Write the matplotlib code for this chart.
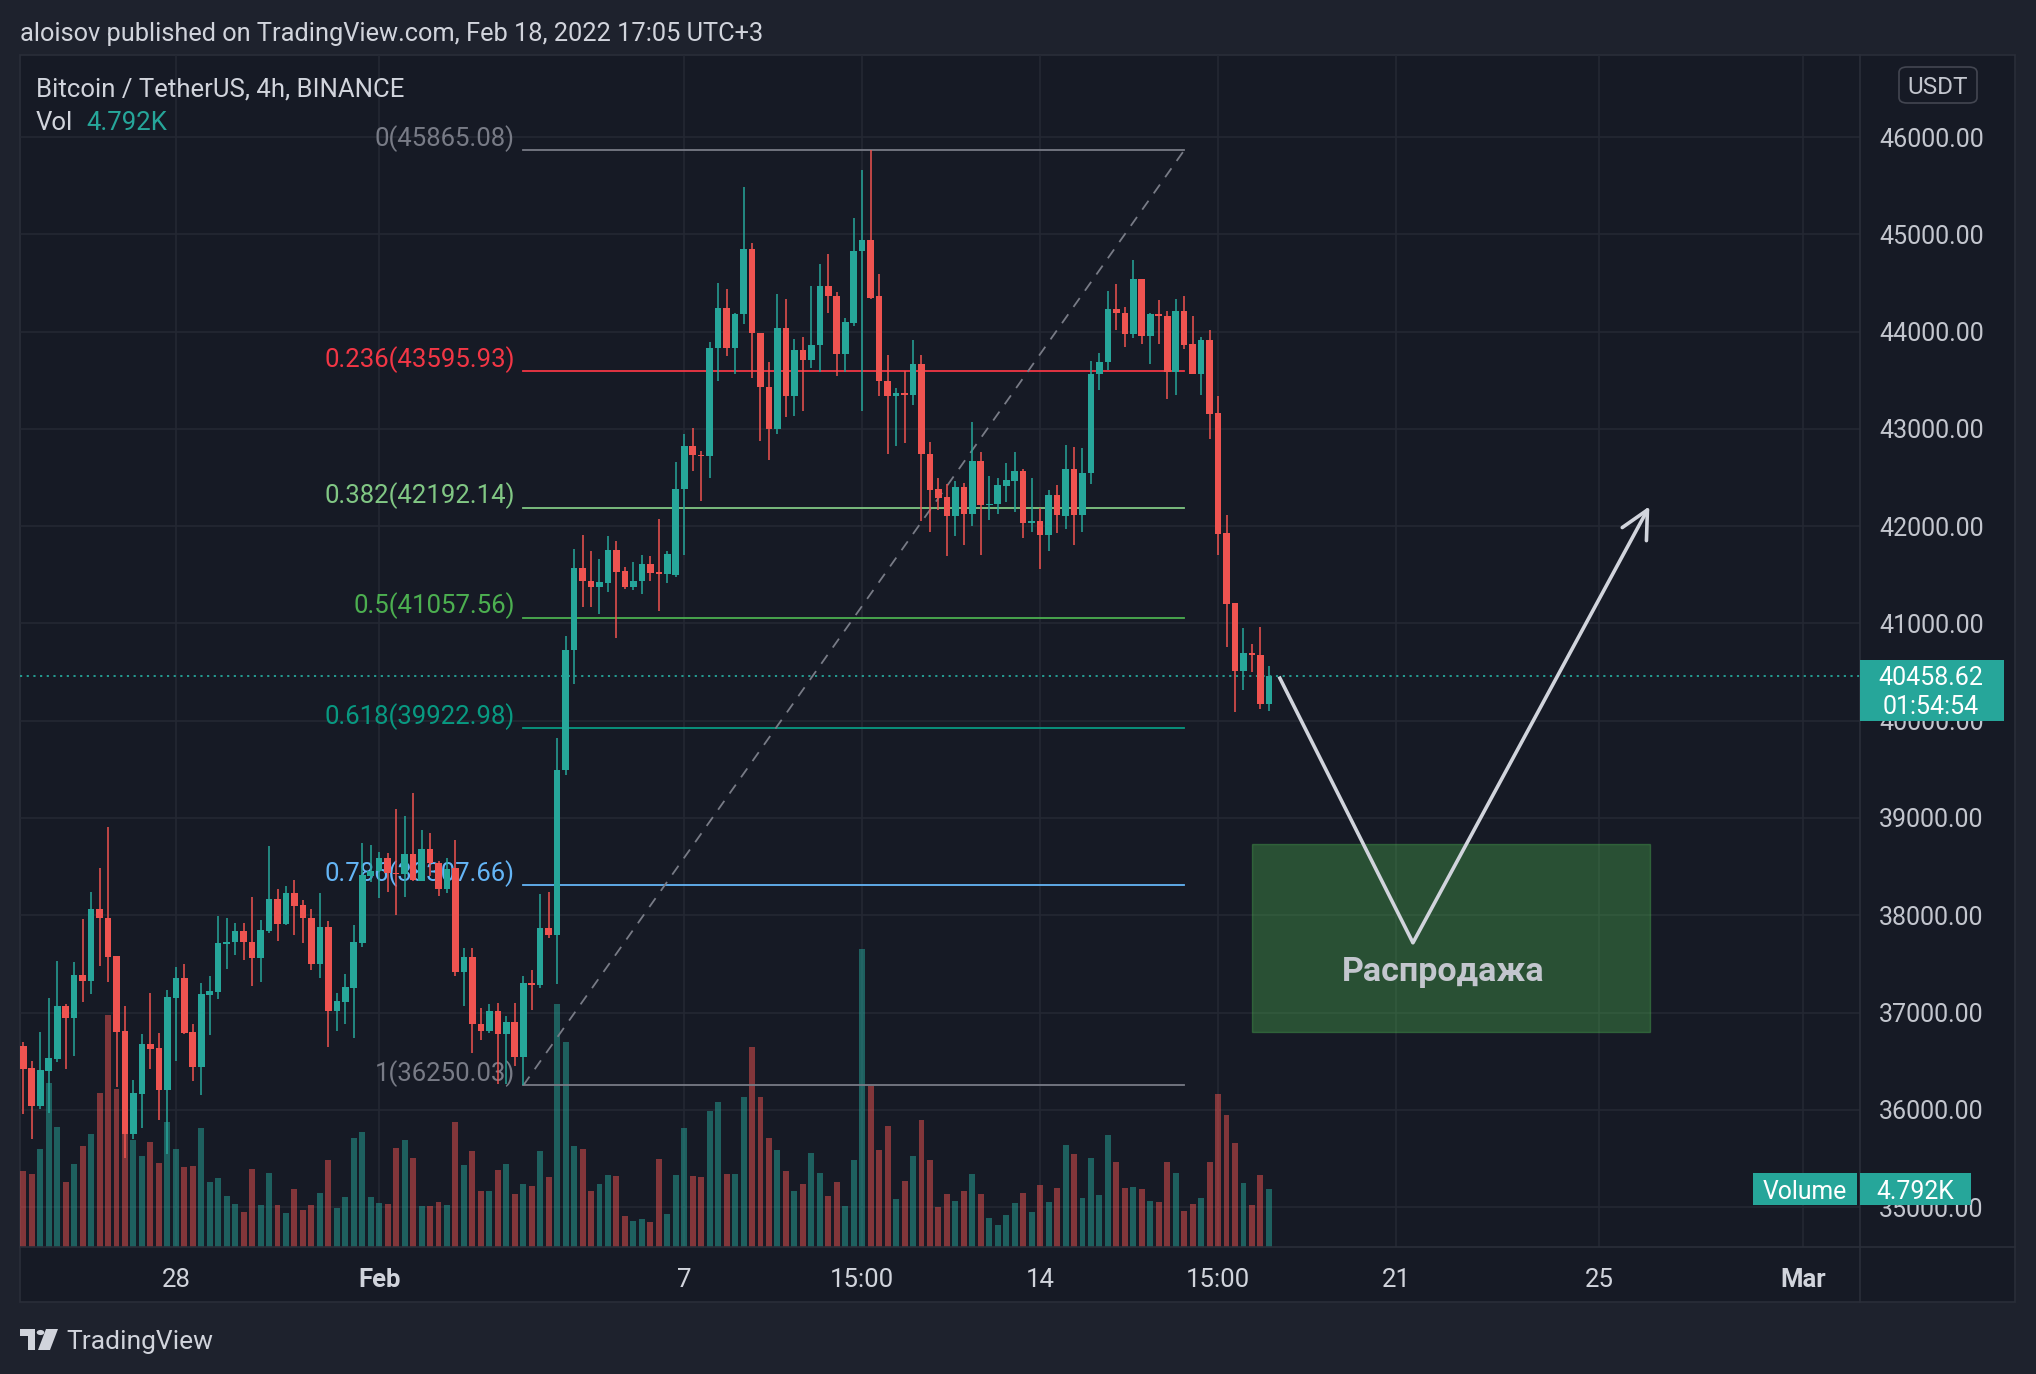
import matplotlib
matplotlib.use("Agg")
import matplotlib.pyplot as plt
import matplotlib.transforms as mtransforms
from matplotlib.patches import Rectangle, FancyBboxPatch, Circle, Polygon
from matplotlib.lines import Line2D
import numpy as np

plt.rcParams["font.family"] = ["Roboto", "DejaVu Sans"]

# ------------------------------------------------------------------
# data: BTC/USDT 4h candles, Jan 25 -> Feb 18 2022
# ------------------------------------------------------------------
opens = [36651, 36429, 36043, 36402, 36525, 37064, 36941, 37382, 37320, 38068,
         37976, 37577, 36808, 35746, 36163, 36675, 36634, 36207, 37146, 37351,
         36798, 36443, 37184, 37211, 37703, 37727, 37839, 37730, 37559, 37836,
         38164, 37908, 38232, 38102, 37973, 37498, 37877, 37020, 37112, 37256,
         37717, 38403, 38454, 38591, 38437, 38420, 38625, 38352, 38683, 38540,
         38273, 38490, 37415, 37566, 36886, 36811, 37018, 36781, 36905, 36543,
         37305, 37283, 37868, 37800, 39494, 40728, 41566, 41441, 41370, 41415,
         41755, 41536, 41370, 41434, 41611, 41525, 41509, 41500, 42386, 42822,
         42737, 42717, 43836, 44246, 43836, 44177, 44853, 43990, 43427, 43003,
         44041, 43341, 43809, 43710, 43867, 44468, 44372, 43768, 44089, 44826,
         44945, 44372, 43495, 43341, 43365, 43345, 43666, 42747, 42379, 42297,
         42106, 42406, 42123, 42666, 42215, 42225, 42413, 42464, 42563, 42038,
         42055, 41911, 42317, 42106, 42584, 42116, 42543, 43567, 43689, 44232,
         44188, 43976, 44539, 43956, 44181, 44164, 43590, 44212, 43874, 43567,
         43915, 43167, 41928, 41211, 40515, 40696, 40679, 40177]
highs = [36695, 36501, 36798, 37146, 37532, 37092, 37515, 37966, 38242, 38488,
         38908, 37577, 37071, 36306, 36777, 37197, 36788, 37228, 37464, 37495,
         36880, 37300, 37372, 37997, 37976, 37918, 37918, 38191, 37949, 38717,
         38273, 38297, 38359, 38157, 38068, 38225, 37945, 37201, 37396, 37901,
         38738, 38727, 38649, 38635, 39093, 39025, 39257, 38881, 38847, 38557,
         38591, 38773, 37667, 37660, 37045, 37083, 37100, 36962, 37100, 37377,
         37441, 38215, 38234, 39819, 40868, 41766, 41906, 41743, 41660, 41898,
         41849, 41585, 41630, 41709, 41698, 42075, 41747, 42662, 42949, 43010,
         42771, 43898, 44505, 44444, 44188, 45491, 44911, 43990, 43686, 44392,
         44341, 43921, 43942, 44474, 44700, 44802, 44403, 44137, 45171, 45662,
         45865, 44597, 43758, 43420, 43597, 43915, 43761, 42867, 42491, 42437,
         42461, 42447, 43075, 42758, 42512, 42491, 42655, 42758, 42584, 42498,
         42188, 42369, 42420, 42840, 42819, 42799, 43700, 43782, 44416, 44488,
         44253, 44734, 44539, 44195, 44324, 44212, 44334, 44365, 44160, 43945,
         44017, 43341, 42113, 41211, 40956, 40792, 40966, 40567]
lows = [35958, 35702, 36012, 35968, 36494, 36422, 36555, 37109, 37191, 37477,
        37310, 36238, 35507, 35695, 35814, 36422, 35890, 35541, 36504, 36777,
        36293, 36156, 36771, 37139, 37447, 37590, 37539, 37276, 37317, 37816,
        37737, 37898, 37799, 37713, 37440, 37355, 36641, 36812, 36883, 36733,
        37676, 38342, 38181, 38239, 38007, 38188, 38352, 38352, 38403, 38198,
        38232, 37377, 37064, 36584, 36716, 36792, 36264, 36264, 36452, 36250,
        37026, 37252, 37766, 37290, 39445, 40377, 41170, 41170, 41102, 41328,
        40849, 41351, 41340, 41302, 41441, 41124, 41415, 41480, 41700, 42566,
        42259, 42498, 43495, 43751, 43563, 44075, 43522, 42874, 42676, 42949,
        43126, 43137, 43188, 43625, 43584, 44191, 43546, 43584, 44058, 43188,
        44341, 43341, 42747, 42829, 42856, 43249, 42055, 41942, 42167, 41696,
        41901, 41809, 42003, 41706, 42065, 42123, 42249, 42147, 41880, 41942,
        41560, 41747, 41928, 41976, 41809, 41942, 42430, 43396, 43608, 44017,
        43846, 43939, 43874, 43669, 43874, 43311, 43352, 43823, 43567, 43352,
        42901, 41703, 40761, 40085, 40311, 40505, 40116, 40096]
closes = [36422, 36043, 36409, 36532, 37064, 36941, 37382, 37320, 38068, 37969,
          37566, 36801, 35746, 36173, 36675, 36627, 36207, 37156, 37351, 36788,
          36443, 37187, 37218, 37710, 37730, 37839, 37727, 37559, 37846, 38164,
          37908, 38232, 38096, 37973, 37498, 37877, 37020, 37119, 37259, 37723,
          38410, 38458, 38591, 38437, 38420, 38625, 38362, 38683, 38540, 38273,
          38478, 37415, 37566, 36879, 36811, 37018, 36781, 36905, 36543, 37305,
          37283, 37868, 37800, 39494, 40728, 41566, 41441, 41370, 41426, 41755,
          41528, 41370, 41434, 41611, 41517, 41509, 41717, 42386, 42822, 42730,
          42717, 43836, 44246, 43836, 44177, 44853, 43990, 43427, 43003, 44041,
          43341, 43809, 43710, 43867, 44468, 44365, 43768, 44096, 44833, 44945,
          44348, 43495, 43341, 43365, 43351, 43666, 42741, 42372, 42290, 42106,
          42406, 42123, 42666, 42215, 42232, 42420, 42471, 42563, 42038, 42055,
          41911, 42317, 42116, 42584, 42116, 42543, 43567, 43689, 44232, 44188,
          43976, 44539, 43956, 44181, 44164, 43590, 44212, 43863, 43567, 43915,
          43157, 41918, 41201, 40515, 40700, 40672, 40177, 40458.62]
# volume in thousands of BTC
volumes = [6.26, 6.01, 8.08, 13.57, 9.91, 5.34, 6.84, 8.33, 9.33, 12.74,
           19.22, 13.07, 10.80, 8.83, 7.50, 8.67, 6.92, 10.33, 8.08, 6.59,
           6.67, 9.83, 5.34, 5.68, 4.18, 3.51, 2.85, 6.42, 3.43, 6.09,
           3.43, 2.77, 4.76, 3.02, 3.43, 4.43, 7.17, 3.18, 4.10, 9.00,
           9.50, 4.10, 3.60, 3.51, 8.17, 8.83, 7.34, 3.35, 3.35, 3.71,
           3.46, 10.36, 6.79, 7.95, 4.63, 4.63, 6.37, 6.87, 4.38, 5.21,
           5.04, 7.95, 5.79, 20.08, 16.92, 8.37, 8.12, 4.63, 5.21, 5.96,
           5.87, 2.55, 2.14, 2.30, 2.05, 7.29, 2.72, 5.96, 9.86, 5.87,
           5.79, 11.27, 11.94, 6.04, 6.04, 12.36, 16.51, 12.36, 9.03, 8.04,
           6.29, 4.63, 5.21, 7.79, 6.12, 4.21, 5.38, 3.38, 7.20, 24.65,
           13.27, 8.04, 10.03, 3.96, 5.46, 7.54, 10.53, 7.20, 3.30, 4.38,
           3.80, 4.63, 6.04, 4.38, 2.39, 1.80, 2.63, 3.63, 4.46, 2.88,
           5.13, 3.71, 4.88, 8.45, 7.70, 4.05, 7.37, 4.30, 9.28, 7.04,
           4.88, 4.96, 4.79, 3.80, 3.71, 7.04, 6.12, 2.97, 3.55, 4.05,
           7.04, 12.68, 10.94, 8.61, 5.29, 3.46, 5.96, 4.792]

time_tick_pos = [18, 42, 78, 99, 120, 141, 162, 186, 210]
time_tick_labels = ["28", "Feb", "7", "15:00", "14", "15:00", "21", "25", "Mar"]
price_ticks = list(range(35000, 47000, 1000))

fib_ratios = ["0", "0.236", "0.382", "0.5", "0.618", "0.786", "1"]
fib_prices = [45865.08, 43595.93, 42192.14, 41057.56, 39922.98, 38307.66, 36250.03]
fib_colors = ["#787B86", "#F23645", "#81C784", "#4CAF50", "#089981", "#64B5F6", "#787B86"]
fib_x = [59, 137]

zone_x = [145, 192]
zone_prices = [36799, 38732]
zone_label = "Распродажа"
path_x = [148.2, 164.0, 191.9]
path_prices = [40454, 37717, 42204]

last_price = 40458.62
countdown = "01:54:54"
last_volume_label = "4.792K"

# ------------------------------------------------------------------
W, H = 2036, 1374
OUTER = "#1E222D"
CHART = "#161A25"
GRID = "#242833"
BORDER = "#2A2E39"
UP = "#26A69A"
DOWN = "#EF5350"
TEXT = "#D1D4DC"
AXIS_TEXT = "#C3C6CE"


def fx(px):
    return px / W


def fy(py):
    return 1 - py / H


fig = plt.figure(figsize=(W / 100, H / 100), dpi=100, facecolor=OUTER)

# chart frame
fig.add_artist(Rectangle((fx(19.5), fy(1302)), fx(2015) - fx(19.5), fy(54.5) - fy(1302),
                         transform=fig.transFigure, facecolor=CHART, edgecolor=BORDER,
                         linewidth=1.2, zorder=-1))

left, right, top, bottom = 20, 1859.5, 54.5, 1246.7
rect = [fx(left), fy(bottom), fx(right) - fx(left), fy(top) - fy(bottom)]
ax_vol = fig.add_axes(rect)
ax_vol.set_facecolor("none")
ax = ax_vol.twinx()
ax.set_facecolor("none")

n = len(closes)
x = np.arange(n)
o = np.array(opens, dtype=float)
c = np.array(closes, dtype=float)
up = c >= o
cols = np.where(up, UP, DOWN)

ax_vol.set_xlim(-0.39, 216.7)
ax.set_ylim(34592, 46850)
ax_vol.set_ylim(0, 98.7)

# grid
grid_tr = mtransforms.blended_transform_factory(ax_vol.transAxes, ax.transData)
for p in price_ticks:
    ax_vol.plot([0, 1], [p, p], transform=grid_tr, color=GRID, lw=1.2, zorder=0)
for t in time_tick_pos:
    ax_vol.axvline(t, color=GRID, lw=1.2, zorder=0)

# volume
ax_vol.bar(x, volumes, width=0.7, color=cols, alpha=0.5, linewidth=0, zorder=1)

# fib retracement
for ratio, price, col in zip(fib_ratios, fib_prices, fib_colors):
    ax.plot(fib_x, [price, price], color=col, lw=1.3, zorder=1)
    ax.annotate(f"{ratio}({price:.2f})", xy=(fib_x[0], price), xytext=(-6, 8.5),
                textcoords="offset points", ha="right", va="center",
                fontsize=18.5, color=col, zorder=1)
ax.plot(fib_x, [fib_prices[-1], fib_prices[0]], color="#787B86", lw=1.3,
        ls=(0, (6, 5)), zorder=1)

# candles
ax.vlines(x, lows, highs, colors=cols, lw=1.1, zorder=3)
body = np.maximum(np.abs(c - o), 12)
ax.bar(x, body, bottom=np.minimum(o, c), width=0.78, color=cols, linewidth=0, zorder=4)

# current price line
ax.axhline(last_price, color=UP, lw=1.3, ls=(0, (1.2, 2.5)), zorder=2)

# sell-off zone and projected path
ax.add_patch(Rectangle((zone_x[0], zone_prices[0]), zone_x[1] - zone_x[0],
                       zone_prices[1] - zone_prices[0], facecolor="#4CAF50", alpha=0.37,
                       edgecolor="#4CAF50", linewidth=1.0, zorder=2))
ax.text(167.6, 37420, zone_label, ha="center", va="center", fontsize=24.5,
        fontweight="bold", color=AXIS_TEXT, zorder=5)
ax.plot(path_x[:2], path_prices[:2], color=TEXT, lw=2.6, solid_capstyle="butt", zorder=6)
ax.annotate("", xy=(path_x[2], path_prices[2]), xytext=(path_x[1], path_prices[1]),
            arrowprops=dict(arrowstyle="->,head_length=0.9,head_width=0.45",
                            color=TEXT, lw=2.6, mutation_scale=22,
                            shrinkA=0, shrinkB=0), zorder=6)

# axes cosmetics
for a in (ax, ax_vol):
    for s in a.spines.values():
        s.set_visible(False)
ax_vol.set_yticks([])
ax_vol.set_xticks([])
ax.set_yticks(price_ticks)
ax.set_yticklabels([f"{p:.2f}" for p in price_ticks])
ax.tick_params(axis="y", right=True, labelright=True, left=False, labelleft=False,
               length=0, pad=14, labelsize=18, labelcolor=AXIS_TEXT)

for t, lab in zip(time_tick_pos, time_tick_labels):
    bold = lab in ("Feb", "Mar")
    ax_vol.text(t, -0.0282, lab, transform=ax_vol.get_xaxis_transform(), ha="center",
                va="center", fontsize=18.5, color=TEXT,
                fontweight="bold" if bold else "normal")

# separators
fig.add_artist(Line2D([fx(right), fx(right)], [fy(1302), fy(54.5)], color=BORDER, lw=1.2))
fig.add_artist(Line2D([fx(19.5), fx(2015)], [fy(bottom), fy(bottom)], color=BORDER, lw=1.2))

# header and legend
fig.text(fx(20), fy(34), "aloisov published on TradingView.com, Feb 18, 2022 17:05 UTC+3",
         fontsize=18.3, color=TEXT, va="center", ha="left")
fig.text(fx(36), fy(89), "Bitcoin / TetherUS, 4h, BINANCE", fontsize=18.5, color=TEXT,
         va="center", ha="left")
fig.text(fx(36), fy(123), "Vol", fontsize=18.5, color=TEXT, va="center", ha="left")
fig.text(fx(86), fy(123), last_volume_label, fontsize=18.5, color=UP, va="center",
         ha="left")

# right scale badges
fig.add_artist(FancyBboxPatch((fx(1899), fy(103)), fx(78), 36 / H,
                              boxstyle="round,pad=0,rounding_size=0.004",
                              transform=fig.transFigure, facecolor=CHART,
                              edgecolor="#434651", lw=1.2, zorder=3))
fig.text(fx(1938), fy(87), "USDT", fontsize=17.5, color=AXIS_TEXT, ha="center",
         va="center", zorder=4)

fig.add_artist(Rectangle((fx(1859.5), fy(720.7)), fx(144), 61 / H, transform=fig.transFigure,
                         facecolor=UP, edgecolor="none", zorder=3))
fig.text(fx(1931), fy(678), f"{last_price:.2f}", fontsize=18, color="white",
         ha="center", va="center", zorder=4)
fig.text(fx(1931), fy(706.5), countdown, fontsize=18, color="white", ha="center",
         va="center", zorder=4)

fig.add_artist(Rectangle((fx(1753), fy(1205)), fx(104), 32.5 / H, transform=fig.transFigure,
                         facecolor=UP, edgecolor="none", zorder=3))
fig.text(fx(1805), fy(1192), "Volume", fontsize=17.8, color="white", ha="center",
         va="center", zorder=4)
fig.add_artist(Rectangle((fx(1859.5), fy(1205)), fx(111), 32.5 / H, transform=fig.transFigure,
                         facecolor=UP, edgecolor="none", zorder=3))
fig.text(fx(1915), fy(1192), last_volume_label, fontsize=17.8, color="white", ha="center",
         va="center", zorder=4)

# TradingView logo
logo = "#D1D4DC"
fig.add_artist(Rectangle((fx(20), fy(1336)), fx(15), 7 / H, transform=fig.transFigure,
                         facecolor=logo, edgecolor="none"))
fig.add_artist(Rectangle((fx(28), fy(1350)), fx(7), 21 / H, transform=fig.transFigure,
                         facecolor=logo, edgecolor="none"))
fig.add_artist(Circle((fx(40.5), fy(1332.5)), 3.8 / W, transform=fig.transFigure,
                      facecolor=logo, edgecolor="none"))
fig.add_artist(Polygon([(fx(46), fy(1329)), (fx(58), fy(1329)), (fx(50), fy(1350)),
                        (fx(38), fy(1350))], closed=True, transform=fig.transFigure,
                       facecolor=logo, edgecolor="none"))
fig.text(fx(66), fy(1342), "TradingView", fontsize=19, color=TEXT, va="center", ha="left")

fig.savefig("out.png", dpi=100, facecolor=OUTER)
